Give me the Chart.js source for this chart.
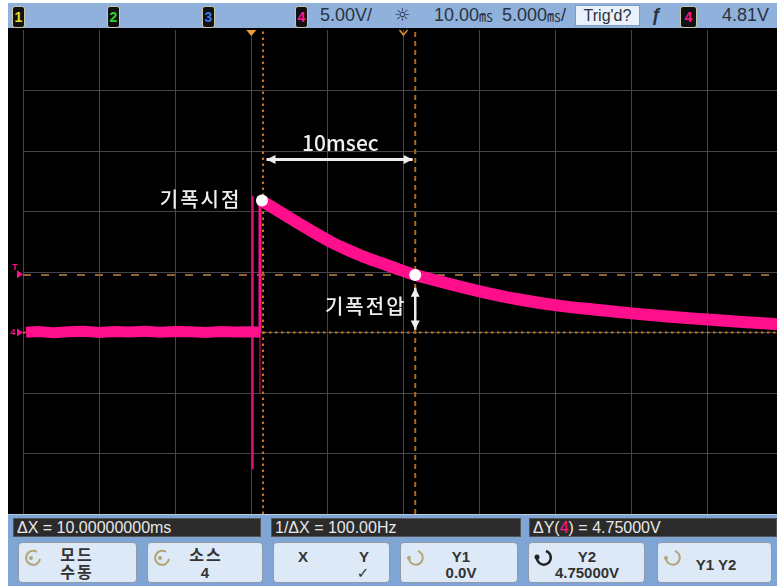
<!DOCTYPE html>
<html lang="ko">
<head>
<meta charset="utf-8">
<script src="https://cdn.jsdelivr.net/npm/chart.js@4.4.1/dist/chart.umd.min.js"></script>
<style>
  html, body { margin: 0; padding: 0; }
  body { width: 777px; height: 586px; background: #fff; position: relative; overflow: hidden;
         font-family: "Liberation Sans", "DejaVu Sans", sans-serif; color: #2a3240; }
  .abs { position: absolute; white-space: nowrap; }
  #topbar { left: 8px; top: 3px; width: 769px; height: 25px; background: #8fb1dc; }
  #scope { position: absolute; left: 8px; top: 28px; }
  #bottom { left: 8px; top: 514px; width: 769px; height: 72px; background: #7fa5d5; border-top: 1px solid #b9c9dc; box-sizing: border-box; }
  .ch { position: absolute; top: 6px; width: 11px; height: 20px; background: #111; border: 1px solid #c9c9a8;
        border-radius: 3px; font: bold 14px/20px "Liberation Sans", sans-serif; text-align: center; }
  .bar { font-size: 18px; top: 5px; line-height: 20px; }
  .readout { top: 518px; height: 19px; background: #2b2b2b; border: 1px solid #555; box-sizing: border-box;
             color: #e8e8e8; font-size: 16px; line-height: 17px; padding-left: 3px; }
  .btn { position: absolute; top: 542px; height: 41px; background: #dde9f7; border: 1px solid #8f9aa6;
         border-radius: 4px; box-sizing: border-box; }
  .btn .lbl { position: absolute; transform: translateX(-50%); text-align: center; font-size: 15px; line-height: 16px;
              font-weight: bold; color: #333; white-space: nowrap; }
  .btn .ko { font-family: "Noto Sans CJK KR", sans-serif; font-size: 16px; letter-spacing: 2px; line-height: 17px; }
  .btn svg { position: absolute; left: 3px; top: 4px; }
</style>
</head>
<body>
<div id="topbar" class="abs"></div>
<div class="ch" style="left:12px;color:#e8e020">1</div>
<div class="ch" style="left:107px;color:#30d030">2</div>
<div class="ch" style="left:202px;color:#3a78f0">3</div>
<div class="ch" style="left:295px;color:#ff1a8c">4</div>
<div class="abs bar" style="left:320px">5.00V/</div>
<div class="abs bar" style="left:394px;font-family:'DejaVu Sans';font-size:18px">☼</div>
<div class="abs bar" style="left:434px">10.00<span style="font-family:'Noto Sans CJK KR';font-size:14px">㎳</span></div>
<div class="abs bar" style="left:502px">5.000<span style="font-family:'Noto Sans CJK KR';font-size:14px">㎳</span>/</div>
<div class="abs" style="left:575px;top:5px;width:65px;height:21px;background:#e9f1fb;border:1px solid #7d9cc4;box-sizing:border-box;text-align:center;font-size:16px;line-height:19px">Trig'd?</div>
<div class="abs bar" style="left:651px;font-style:italic;font-weight:bold">ƒ</div>
<div class="ch" style="left:680px;width:15px;color:#ff1a8c">4</div>
<div class="abs bar" style="left:722px">4.81V</div>

<canvas id="scope" width="769" height="486"></canvas>

<div id="bottom" class="abs"></div>
<div class="abs readout" style="left:13px;width:248px">ΔX = 10.00000000ms</div>
<div class="abs readout" style="left:271px;width:250px">1/ΔX = 100.00Hz</div>
<div class="abs readout" style="left:529px;width:248px">ΔY(<span style="color:#ff1a8c">4</span>) = 4.75000V</div>
<div id="buttons"></div>

<script>
// Screen range (ms, V) and graticule
const xMin = -15, xMax = 34.54;
const yMin = -15, yMax = 25;
const gridTimes = [-15, -10, -5, 0, 5, 10, 15, 20, 25, 30];
const gridVolts = [-10, -5, 0, 5, 10, 15, 20];

// Channel 4 trace
const baseTimes = [-14.8, -14, -13, -12, -11, -10, -9, -8, -7, -6, -5, -4, -3, -2, -1, 0, 0.6];
const baseVolts = [0.02, 0.08, -0.02, 0.06, 0.1, 0, 0.08, 0.04, 0.1, 0.02, 0.08, 0.06, 0, 0.08, 0.04, 0.06, 0.03];
const spikeTimes = [0.09, 0.09];
const spikeVolts = [11.3, -11.3];
const edgeTimes = [0.57, 0.57];
const edgeVolts = [0, 10.9];
const dipTimes = [0.57, 0.57];
const dipVolts = [0, -5];
const decayTimes = [0.6, 1.5, 3.0, 4.0, 5.2, 6.2, 7.4, 8.5, 9.6, 10.8, 12.6, 15.0, 17.5, 20.3, 22.5, 25.0, 27.5, 30.0, 32.5, 34.6];
const decayVolts = [10.95, 10.25, 9.1, 8.35, 7.5, 6.9, 6.25, 5.75, 5.25, 4.75, 4.15, 3.4, 2.75, 2.2, 1.9, 1.58, 1.3, 1.07, 0.85, 0.68];

// Cursors and marked points
const cursorTimes = [0.77, 10.77];
const cursorVolts = [0, 4.75];
const markTimes = [0.7, 10.77];
const markVolts = [10.9, 4.75];
const triggerLevel = 4.81;

const pts = (xs, ys) => xs.map((x, i) => ({ x, y: ys[i] }));
const PINK = '#ff0f8c';
const CURSOR = '#c4741c';

const buttons = [
  { left: 18, width: 119, icon: 'knob', labels: [{ t: '모드<br>수동', x: 58, y: 3, ko: true }] },
  { left: 147, width: 116, icon: 'knob', labels: [{ t: '소스', x: 58, y: 3, ko: true }, { t: '4', x: 57, y: 22 }] },
  { left: 273, width: 117, labels: [{ t: 'X', x: 29, y: 6 }, { t: 'Y', x: 90, y: 6 }, { t: '✓', x: 89, y: 22 }] },
  { left: 400, width: 118, icon: 'ring', labels: [{ t: 'Y1<br>0.0V', x: 60, y: 6 }] },
  { left: 528, width: 117, icon: 'ringBold', labels: [{ t: 'Y2<br>4.75000V', x: 58, y: 6 }] },
  { left: 657, width: 115, icon: 'ring', labels: [{ t: 'Y1 Y2', x: 58, y: 14 }] }
];
const icons = {
  knob: '<svg width="22" height="22"><path d="M15 5 A7 7 0 1 0 18 12" fill="none" stroke="#b4a574" stroke-width="2"/><circle cx="9" cy="11" r="2" fill="#b4a574"/></svg>',
  ring: '<svg width="22" height="22"><path d="M14 4 A7 7 0 1 1 5 9" fill="none" stroke="#b4a574" stroke-width="2"/><circle cx="5" cy="11" r="2" fill="#b4a574"/></svg>',
  ringBold: '<svg width="22" height="22"><path d="M14 4 A7 7 0 1 1 5 9" fill="none" stroke="#222" stroke-width="2.5"/><circle cx="5" cy="10" r="2.5" fill="#222"/></svg>'
};
const btnHost = document.getElementById('buttons');
buttons.forEach(b => {
  const div = document.createElement('div');
  div.className = 'btn';
  div.style.left = b.left + 'px';
  div.style.width = b.width + 'px';
  div.innerHTML = (b.icon ? icons[b.icon] : '') + b.labels.map(l =>
    `<div class="lbl${l.ko ? ' ko' : ''}" style="left:${l.x}px;top:${l.y}px">${l.t}</div>`).join('');
  btnHost.appendChild(div);
});

// Scope screen decorations: black screen, markers, hand-drawn notes
const scopePlugin = {
  id: 'scope',
  beforeDraw(chart) {
    const ctx = chart.ctx;
    ctx.save();
    ctx.fillStyle = '#000';
    ctx.fillRect(0, 0, chart.width, chart.height);
    ctx.restore();
  },
  afterDatasetsDraw(chart) {
    const { ctx, scales: { x, y }, chartArea: a } = chart;
    ctx.save();
    // trigger position and delay markers at top
    const tx = x.getPixelForValue(0), dx = x.getPixelForValue(10);
    ctx.fillStyle = '#f0a030';
    ctx.beginPath();
    ctx.moveTo(tx - 5, a.top); ctx.lineTo(tx + 5, a.top); ctx.lineTo(tx, a.top + 6); ctx.closePath(); ctx.fill();
    ctx.strokeStyle = '#e09030'; ctx.lineWidth = 1.5;
    ctx.beginPath();
    ctx.moveTo(dx - 4, a.top); ctx.lineTo(dx, a.top + 5); ctx.lineTo(dx + 4, a.top); ctx.stroke();

    // ground and trigger level markers on the left
    ctx.fillStyle = PINK;
    const g = y.getPixelForValue(0), t = y.getPixelForValue(triggerLevel);
    ctx.beginPath(); ctx.moveTo(9, g - 4); ctx.lineTo(15, g); ctx.lineTo(9, g + 4); ctx.fill();
    ctx.beginPath(); ctx.moveTo(9, t - 4); ctx.lineTo(15, t); ctx.lineTo(9, t + 4); ctx.fill();
    ctx.font = 'bold 9px "Liberation Sans"';
    ctx.textAlign = 'center'; ctx.textBaseline = 'middle';
    ctx.fillText('4', 5, g);
    ctx.fillText('T', 7, t - 7);

    // notes
    ctx.strokeStyle = '#eeeeee'; ctx.fillStyle = '#eeeeee';
    const arrowHead = (px, py, ang) => {
      ctx.beginPath();
      ctx.moveTo(px, py);
      ctx.lineTo(px - 9 * Math.cos(ang) + 4.5 * Math.sin(ang), py - 9 * Math.sin(ang) - 4.5 * Math.cos(ang));
      ctx.lineTo(px - 9 * Math.cos(ang) - 4.5 * Math.sin(ang), py - 9 * Math.sin(ang) + 4.5 * Math.cos(ang));
      ctx.closePath(); ctx.fill();
    };
    const dblArrow = (x1, y1, x2, y2, w) => {
      const ang = Math.atan2(y2 - y1, x2 - x1);
      ctx.lineWidth = w;
      ctx.beginPath(); ctx.moveTo(x1, y1); ctx.lineTo(x2, y2); ctx.stroke();
      arrowHead(x2, y2, ang); arrowHead(x1, y1, ang + Math.PI);
    };
    dblArrow(x.getPixelForValue(1.0), y.getPixelForValue(14.3), x.getPixelForValue(10.6), y.getPixelForValue(14.3), 3);
    dblArrow(x.getPixelForValue(10.77), y.getPixelForValue(3.7), x.getPixelForValue(10.77), y.getPixelForValue(0.25), 2.5);

    ctx.textBaseline = 'middle';
    ctx.font = '500 21px "Noto Sans CJK KR", sans-serif';
    ctx.textAlign = 'center';
    ctx.fillText('10msec', x.getPixelForValue(5.85), y.getPixelForValue(15.7));
    ctx.font = '500 20px "Noto Sans CJK KR", sans-serif';
    ctx.letterSpacing = '2px';
    ctx.textAlign = 'right';
    ctx.fillText('기폭시점', x.getPixelForValue(-0.65), y.getPixelForValue(11.0));
    ctx.fillText('기폭전압', x.getPixelForValue(10.2), y.getPixelForValue(2.15));
    ctx.restore();
  }
};

new Chart(document.getElementById('scope'), {
  type: 'line',
  data: {
    datasets: [
      { data: pts(markTimes, markVolts), showLine: false, pointRadius: 6, pointBackgroundColor: '#fff', pointBorderWidth: 0, order: 0 },
      { data: pts(decayTimes, decayVolts), borderColor: PINK, borderWidth: 12, cubicInterpolationMode: 'monotone', order: 1 },
      { data: pts(baseTimes, baseVolts), borderColor: PINK, borderWidth: 11, order: 2 },
      { data: pts(edgeTimes, edgeVolts), borderColor: PINK, borderWidth: 3, order: 3 },
      { data: pts(spikeTimes, spikeVolts), borderColor: '#e0107a', borderWidth: 2, order: 4 },
      { data: pts(dipTimes, dipVolts), borderColor: 'rgba(255,20,140,0.45)', borderWidth: 2, order: 5 },
      { data: pts([cursorTimes[0], cursorTimes[0]], [yMin, yMax]), borderColor: CURSOR, borderWidth: 2, borderDash: [2.5, 3.5], order: 6 },
      { data: pts([cursorTimes[1], cursorTimes[1]], [yMin, yMax]), borderColor: '#b4661a', borderWidth: 2, borderDash: [5, 4], order: 7 },
      { data: pts([xMin, xMax], [cursorVolts[0], cursorVolts[0]]), borderColor: CURSOR, borderWidth: 2, borderDash: [2.5, 3.5], order: 8 },
      { data: pts([xMin, xMax], [cursorVolts[1], cursorVolts[1]]), borderColor: '#8f6535', borderWidth: 2, borderDash: [8, 10], order: 9 }
    ]
  },
  options: {
    responsive: false,
    animation: false,
    devicePixelRatio: 1,
    layout: { autoPadding: false, padding: { left: 15, top: 2, right: 0, bottom: 0 } },
    plugins: { legend: { display: false }, tooltip: { enabled: false } },
    elements: { point: { radius: 0 }, line: { tension: 0, borderCapStyle: 'butt' } },
    scales: {
      x: {
        type: 'linear', min: xMin, max: xMax,
        afterBuildTicks: s => { s.ticks = gridTimes.map(v => ({ value: v })); },
        grid: { color: '#464646', lineWidth: 1, drawTicks: false },
        border: { display: false },
        ticks: { display: false }
      },
      y: {
        type: 'linear', min: yMin, max: yMax,
        afterBuildTicks: s => { s.ticks = gridVolts.map(v => ({ value: v })); },
        grid: { color: '#464646', lineWidth: 1, drawTicks: false },
        border: { display: false },
        ticks: { display: false }
      }
    }
  },
  plugins: [scopePlugin]
});
</script>
</body>
</html>
